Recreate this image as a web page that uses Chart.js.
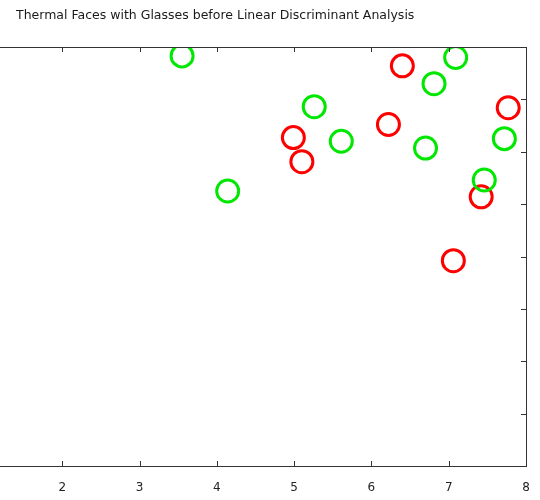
<!DOCTYPE html>
<html>
<head>
<meta charset="utf-8">
<script src="https://cdn.jsdelivr.net/npm/chart.js@4"></script>
<style>
  html, body { margin: 0; padding: 0; background: #fff; overflow: hidden; }
  #wrap { position: relative; width: 540px; height: 500px; overflow: hidden; }
  #title {
    position: absolute; left: 16px; top: 7px;
    font: 12.5px "DejaVu Sans", sans-serif; color: #1a1a1a; white-space: nowrap;
  }
  #box { position: absolute; left: -60px; top: 0; width: 600px; height: 500px; }
</style>
</head>
<body>
<div id="wrap">
  <div id="box"><canvas id="ldaChart" width="600" height="500"></canvas></div>
  <div id="title">Thermal Faces with Glasses before Linear Discriminant Analysis</div>
</div>
<script>
// class with glasses A (green)
const greenX = [3.55, 4.14, 5.26, 5.61, 6.70, 6.81, 7.09, 7.46, 7.72];
const greenY = [7.83, 5.25, 6.86, 6.20, 6.07, 7.30, 7.80, 5.46, 6.25];
// class B (red)
const redX = [4.99, 5.10, 6.22, 6.40, 7.06, 7.42, 7.77];
const redY = [6.27, 5.81, 6.52, 7.64, 3.92, 5.14, 6.84];

const xTicks = [1, 2, 3, 4, 5, 6, 7, 8];
const yTicks = [0, 1, 2, 3, 4, 5, 6, 7, 8];

function toPoints(xs, ys) {
  return xs.map((x, i) => ({ x: x, y: ys[i] }));
}

// matlab style frame: box and inward ticks on all four sides
const frame = {
  id: "frame",
  afterDraw(chart) {
    const ctx = chart.ctx;
    const a = chart.chartArea;
    const xs = chart.scales.x;
    const ys = chart.scales.y;
    ctx.save();
    ctx.strokeStyle = "#333";
    ctx.lineWidth = 1;
    ctx.strokeRect(Math.round(a.left) + 0.5, Math.round(a.top) + 0.5,
      Math.round(a.right - a.left), Math.round(a.bottom - a.top));
    ctx.beginPath();
    xTicks.forEach((v) => {
      const px = Math.round(xs.getPixelForValue(v)) + 0.5;
      ctx.moveTo(px, a.bottom); ctx.lineTo(px, a.bottom - 5);
      ctx.moveTo(px, a.top); ctx.lineTo(px, a.top + 5);
    });
    yTicks.forEach((v) => {
      const py = Math.round(ys.getPixelForValue(v)) + 0.5;
      ctx.moveTo(a.left, py); ctx.lineTo(a.left + 5, py);
      ctx.moveTo(a.right, py); ctx.lineTo(a.right - 5, py);
    });
    ctx.stroke();
    ctx.restore();
  },
};

const ctx = document.getElementById("ldaChart").getContext("2d");
new Chart(ctx, {
  type: "scatter",
  data: {
    datasets: [
      {
        label: "green",
        data: toPoints(greenX, greenY),
        borderColor: "#00e800",
        backgroundColor: "rgba(0,0,0,0)",
        pointRadius: 11,
        pointBorderWidth: 3,
      },
      {
        label: "red",
        data: toPoints(redX, redY),
        borderColor: "#ff0000",
        backgroundColor: "rgba(0,0,0,0)",
        pointRadius: 11,
        pointBorderWidth: 3,
      },
    ],
  },
  options: {
    responsive: false,
    animation: false,
    events: [],
    layout: { padding: { top: 47, right: 13, left: 0, bottom: 0 } },
    plugins: { legend: { display: false }, tooltip: { enabled: false } },
    scales: {
      x: {
        type: "linear",
        min: 1,
        max: 8,
        afterBuildTicks: (s) => { s.ticks = xTicks.map((v) => ({ value: v })); },
        afterFit: (s) => {
          s.height = 34;
          s.paddingLeft = 0;
          s.paddingRight = 0;
        },
        grid: { display: false, drawTicks: false },
        border: { display: false },
        ticks: {
          padding: 15,
          color: "#222",
          font: { family: "DejaVu Sans", size: 12 },
        },
      },
      y: {
        type: "linear",
        min: 0,
        max: 8,
        afterBuildTicks: (s) => { s.ticks = yTicks.map((v) => ({ value: v })); },
        afterFit: (s) => {
          s.width = 45;
          s.paddingTop = 0;
          s.paddingBottom = 0;
        },
        grid: { display: false, drawTicks: false },
        border: { display: false },
        ticks: { display: false },
      },
    },
  },
  plugins: [frame],
});
</script>
</body>
</html>
